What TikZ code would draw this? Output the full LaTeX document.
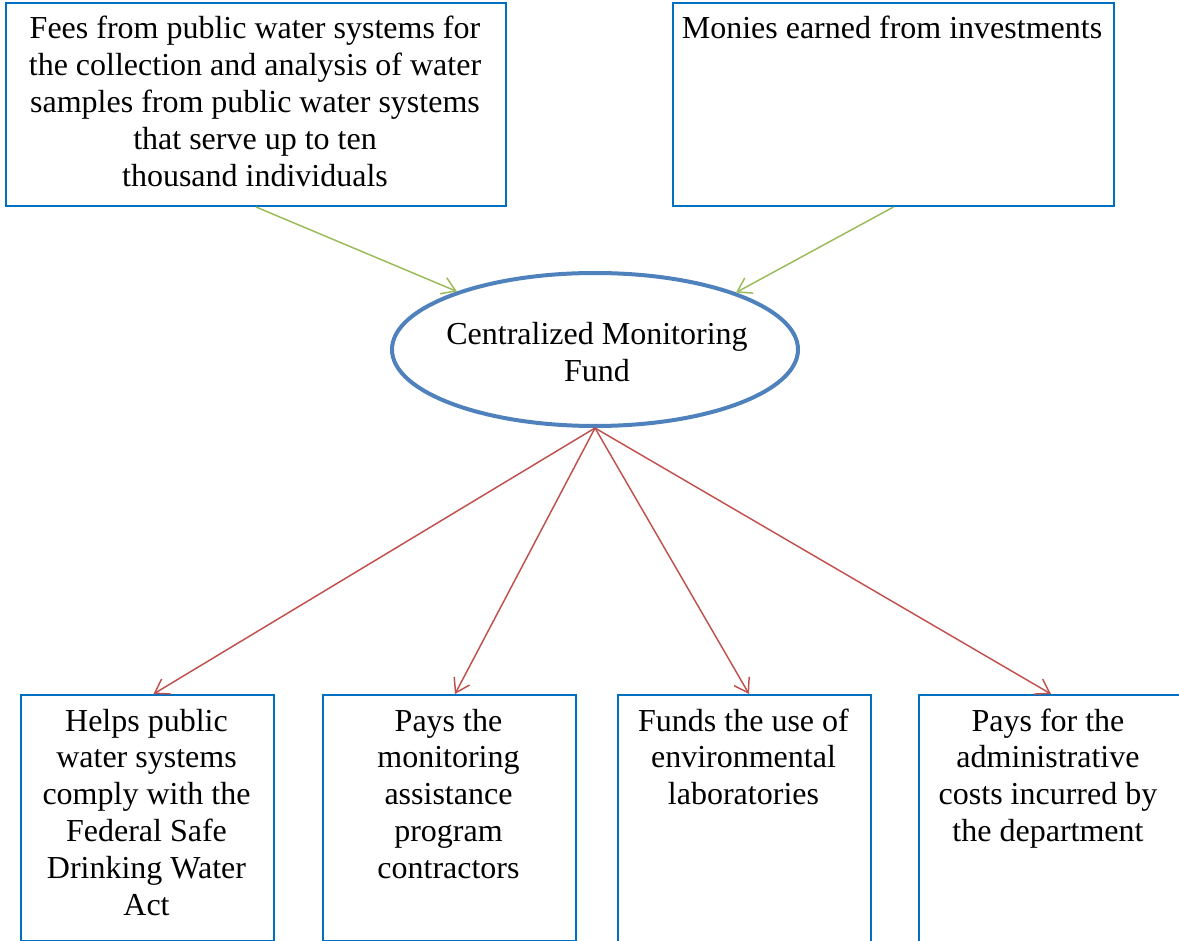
\documentclass[tikz,border=0pt]{standalone}
\usepackage{fontspec}
\setmainfont{Liberation Serif}
\usetikzlibrary{shapes.geometric,arrows.meta,calc}
\definecolor{boxblue}{HTML}{0070C0}
\definecolor{ellblue}{HTML}{4F81BD}
\definecolor{arrgreen}{HTML}{9BBB59}
\definecolor{arrred}{HTML}{C0504D}
\tikzset{
  box/.style={draw=boxblue, line width=1.5pt, inner sep=0pt, anchor=north west},
  txt/.style={align=center, inner sep=0pt, anchor=base, font=\fontsize{24}{27.6}\selectfont},
  fund/.style={ellipse, draw=ellblue, line width=3pt, inner sep=0pt, minimum width=304.5pt, minimum height=114.75pt},
  inflow/.style={draw=arrgreen, line width=1.1pt, -{Straight Barb[length=10pt,width=13pt]}},
  outflow/.style={draw=arrred, line width=1.1pt, -{Straight Barb[length=10pt,width=13pt]}},
}
\begin{document}
\begin{tikzpicture}[x=0.75pt,y=-0.75pt]
\useasboundingbox (0,0) rectangle (1179,941);
\clip (0,0) rectangle (1179,941);
% top boxes
\node[box, minimum width=375pt, minimum height=152.25pt] (A) at (5,2) {};
\node[box, minimum width=330.75pt, minimum height=152.25pt] (B) at (672,2) {};
% text anchors are at the baseline of the last line
\node[txt] (tA) at (255,186.2) {Fees from public water systems for\\the collection and analysis of water\\samples from public water systems\\that serve up to ten\\thousand individuals};
\node[txt] (tB) at (892,39) {Monies earned from investments};
% fund
\node[fund] (F) at (595,349.5) {};
\node[txt] (tF) at (597,381.8) {Centralized Monitoring\\Fund};
% bottom boxes
\node[box, minimum width=189.75pt, minimum height=184.5pt] (b1) at (20,694) {};
\node[box, minimum width=189.75pt, minimum height=184.5pt] (b2) at (322,694) {};
\node[box, minimum width=189.75pt, minimum height=187.5pt] (b3) at (617,694) {};
\node[box, minimum width=198pt, minimum height=187.5pt] (b4) at (918,694) {};
\node[txt] (t1) at (146.5,915) {Helps public\\water systems\\comply with the\\Federal Safe\\Drinking Water\\Act};
\node[txt] (t2) at (448.5,878.2) {Pays the\\monitoring\\assistance\\program\\contractors};
\node[txt] (t3) at (743.5,804.6) {Funds the use of\\environmental\\laboratories};
\node[txt] (t4) at (1048,841.4) {Pays for the\\administrative\\costs incurred by\\the department};
% connectors
\draw[inflow] (A.south) -- (F);
\draw[inflow] (B.south) -- (F.22);
\draw[outflow] (F.south) -- ($(b1.north)+(6,0)$);
\draw[outflow] (F.south) -- ($(b2.north)+(5.5,0)$);
\draw[outflow] (F.south) -- ($(b3.north)+(4.5,0)$);
\draw[outflow] (F.south) -- ($(b4.north)+(0,0)$);
\end{tikzpicture}
\end{document}
